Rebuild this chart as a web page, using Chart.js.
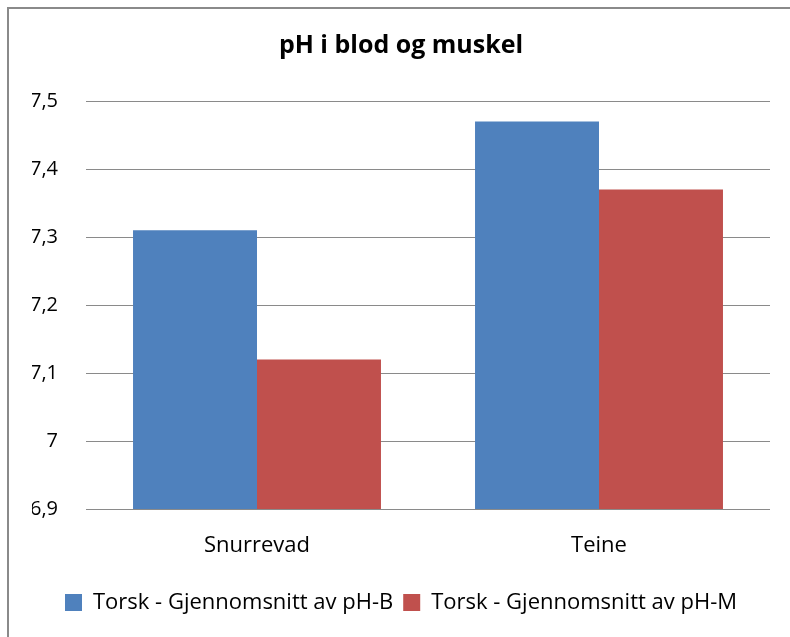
<!DOCTYPE html>
<html>
<head>
<meta charset="utf-8">
<script src="https://cdn.jsdelivr.net/npm/chart.js@4/dist/chart.umd.min.js"></script>
<style>
  html, body { margin: 0; padding: 0; background: #fff; }
  #wrap { position: relative; width: 790px; height: 637px; overflow: hidden; background: #fff; }
  #frame { position: absolute; left: 7px; top: 7px; width: 800px; height: 700px;
           border-left: 2px solid #8a8a8a; border-top: 2px solid #8a8a8a; box-sizing: border-box; }
  canvas { position: absolute; left: 0; top: 0; }
</style>
</head>
<body>
<div id="wrap">
  <div id="frame"></div>
  <canvas id="c" width="790" height="637"></canvas>
</div>
<script>
const chartTitle = "pH i blod og muskel";
const categories = ["Snurrevad", "Teine"];
const seriesNames = ["Torsk - Gjennomsnitt av pH-B", "Torsk - Gjennomsnitt av pH-M"];
const phB = [7.31, 7.47];
const phM = [7.12, 7.37];
const yMin = 6.9;
const yMax = 7.5;
const yStep = 0.1;

const FONT = "'Open Sans', Lato, sans-serif";

new Chart(document.getElementById('c'), {
  type: 'bar',
  data: {
    labels: categories,
    datasets: [
      { label: seriesNames[0], data: phB, backgroundColor: '#4F81BD', borderWidth: 0 },
      { label: seriesNames[1], data: phM, backgroundColor: '#C0504D', borderWidth: 0 }
    ]
  },
  options: {
    responsive: false,
    animation: false,
    devicePixelRatio: 1,
    layout: { padding: { left: 32, right: 20, top: 8, bottom: 13.5 } },
    datasets: { bar: { barPercentage: 1, categoryPercentage: 0.725 } },
    plugins: {
      title: {
        display: true, text: chartTitle, color: '#000',
        font: { family: FONT, size: 25, weight: 'bold' },
        padding: { top: 23, bottom: 40 }
      },
      legend: {
        position: 'bottom',
        labels: {
          color: '#000', boxWidth: 17, boxHeight: 17, padding: 10,
          font: { family: FONT, size: 22 }
        }
      },
      tooltip: { enabled: false }
    },
    scales: {
      x: {
        grid: { display: false, drawTicks: false },
        border: { display: false },
        ticks: { color: '#000', padding: 23, font: { family: FONT, size: 22 } }
      },
      y: {
        min: yMin, max: yMax,
        afterFit: (s) => { s.width = 54; },
        grid: { color: '#8a8a8a', lineWidth: 1, drawTicks: false },
        border: { display: false },
        ticks: {
          stepSize: yStep, color: '#000', padding: 28,
          font: { family: FONT, size: 20 },
          callback: (v) => String(Math.round(v * 10) / 10).replace('.', ',')
        }
      }
    }
  }
});
</script>
</body>
</html>
